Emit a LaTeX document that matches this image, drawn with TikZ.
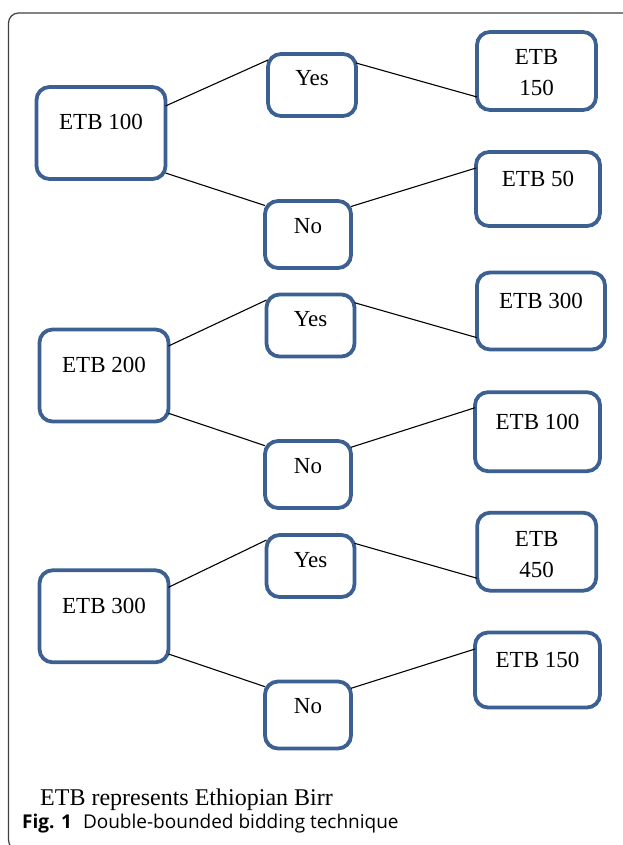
\documentclass[tikz,border=0pt]{standalone}
\usepackage{fontspec}
\setmainfont{Liberation Serif}
\newfontfamily\capfont{Open Sans}
\definecolor{boxblue}{RGB}{60,96,145}

\begin{document}
\begin{tikzpicture}[x=1pt,y=-1pt,
    box/.style={draw=boxblue,line width=3.8pt,rounded corners=13pt,inner sep=0pt,outer sep=0pt,align=center,font=\fontsize{23}{31}\selectfont},
    bidbox/.style={box,minimum width=129pt,minimum height=92pt,text height=43pt,text depth=49pt},
    yesbox/.style={box,minimum width=88pt,minimum height=62pt,text height=32pt,text depth=30pt},
    nobox/.style={box,minimum width=86pt,minimum height=67pt,text height=32pt,text depth=35pt},
    link/.style={line width=1.1pt}]
        \useasboundingbox (0,0) rectangle (622,845);
        \draw[black!75,line width=1.2pt,rounded corners=10pt] (8.5,13) rectangle (700,850);

        \node[bidbox] (a1) at (101,133) {ETB 100};
        \node[yesbox] (y1) at (312,85) {Yes};
        \node[nobox] (n1) at (308,234.5) {No};
        \node[box,minimum width=119pt,minimum height=78pt,text height=64pt,text depth=14pt] (h1) at (536.5,71) {ETB\\150};
        \node[box,minimum width=124pt,minimum height=74pt,text height=34pt,text depth=40pt] (l1) at (538,189) {ETB 50};
        \draw[link] ([yshift=27pt]a1.east) -- ([yshift=25pt]y1.west);
        \draw[link] ([yshift=22pt]y1.east) -- ([yshift=-26pt]h1.west);
        \draw[link] ([yshift=-40pt]a1.east) -- ([yshift=29pt]n1.west);
        \draw[link] ([yshift=28pt]n1.east) -- ([yshift=21pt]l1.west);

        \node[bidbox] (a2) at (104,375.5) {ETB 200};
        \node[yesbox] (y2) at (310.5,325.5) {Yes};
        \node[nobox] (n2) at (308,474.5) {No};
        \node[box,minimum width=128pt,minimum height=77pt,text height=36pt,text depth=41pt] (h2) at (541,311) {ETB 300};
        \node[box,minimum width=125pt,minimum height=79pt,text height=37.3pt,text depth=41.7pt] (l2) at (537.5,431.7) {ETB 100};
        \draw[link] ([yshift=29.5pt]a2.east) -- ([yshift=25.5pt]y2.west);
        \draw[link] ([yshift=22.8pt]y2.east) -- ([yshift=-26.7pt]h2.west);
        \draw[link] ([yshift=-37.8pt]a2.east) -- ([yshift=28.8pt]n2.west);
        \draw[link] ([yshift=27.2pt]n2.east) -- ([yshift=24pt]l2.west);

        \node[bidbox] (a3) at (104,616.3) {ETB 300};
        \node[yesbox] (y3) at (310.5,566) {Yes};
        \node[nobox] (n3) at (308,715) {No};
        \node[box,minimum width=119pt,minimum height=78pt,text height=64.3pt,text depth=13.7pt] (h3) at (536.7,551.7) {ETB\\450};
        \node[box,minimum width=125pt,minimum height=75pt,text height=34.5pt,text depth=40.5pt] (l3) at (537.5,670) {ETB 150};
        \draw[link] ([yshift=29pt]a3.east) -- ([yshift=26pt]y3.west);
        \draw[link] ([yshift=22.7pt]y3.east) -- ([yshift=-26.6pt]h3.west);
        \draw[link] ([yshift=-37.7pt]a3.east) -- ([yshift=28.3pt]n3.west);
        \draw[link] ([yshift=26.7pt]n3.east) -- ([yshift=21pt]l3.west);

        \node[anchor=base west,inner sep=0pt,font=\fontsize{24}{28}\selectfont] (note) at (40,805) {ETB represents Ethiopian Birr};
        \node[anchor=base west,inner sep=0pt,font=\capfont\fontsize{19}{23}\selectfont] (cap) at (22,828) {\textbf{Fig. 1}\hspace{11pt}Double-bounded bidding technique};
      \end{tikzpicture}
\end{document}
